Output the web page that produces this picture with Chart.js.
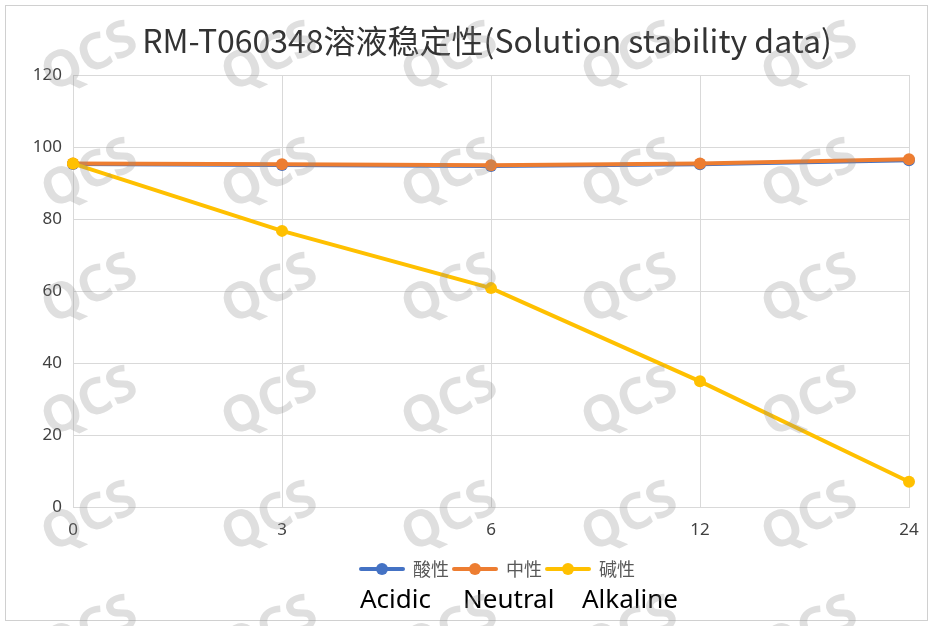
<!DOCTYPE html>
<html>
<head>
<meta charset="utf-8">
<script src="https://cdn.jsdelivr.net/npm/chart.js@4"></script>
<style>
html,body{margin:0;padding:0;background:#fff;}
#wrap{position:relative;width:932px;height:626px;}
</style>
</head>
<body>
<div id="wrap"><canvas id="c" width="932" height="626"></canvas></div>
<script>
const categories = ['0', '3', '6', '12', '24'];
const acidic = [95.3, 95.0, 94.7, 95.2, 96.3];
const neutral = [95.4, 95.2, 94.9, 95.4, 96.6];
const alkaline = [95.4, 76.7, 60.8, 34.9, 7.0];
const seriesNames = ['酸性', '中性', '碱性'];
const subtitleWords = ['Acidic', 'Neutral', 'Alkaline'];
const titleText = 'RM-T060348溶液稳定性(Solution stability data)';
const watermarkText = 'QCS';

const colors = ['#4472C4', '#ED7D31', '#FFC000'];
const FONT = '"Noto Sans", "Noto Sans CJK SC", sans-serif';
const CJK = '"Noto Sans CJK SC", "Noto Sans", sans-serif';

function legendIcon(color) {
  const c = document.createElement('canvas');
  c.width = 46; c.height = 14;
  const g = c.getContext('2d');
  g.strokeStyle = color; g.lineWidth = 4; g.lineCap = 'round';
  g.beginPath(); g.moveTo(2, 7); g.lineTo(44, 7); g.stroke();
  g.fillStyle = color;
  g.beginPath(); g.arc(23, 7, 6, 0, Math.PI * 2); g.fill();
  return c;
}

const decor = {
  id: 'decor',
  afterLayout(chart) {
    const lg = chart.legend;
    if (lg) { lg.left += 43; lg.right += 43; lg.top += 2; lg.bottom += 2; }
  },
  beforeDraw(chart) {
    const ctx = chart.ctx;
    ctx.save();
    ctx.fillStyle = '#fff';
    ctx.fillRect(0, 0, chart.width, chart.height);
    ctx.strokeStyle = '#d0d0d0';
    ctx.lineWidth = 1;
    ctx.strokeRect(5.5, 5.5, 922, 615);
    ctx.restore();
  },
  afterDraw(chart) {
    const ctx = chart.ctx;
    ctx.save();
    // title
    ctx.fillStyle = '#333333';
    ctx.font = '32px ' + CJK;
    ctx.textAlign = 'center';
    ctx.textBaseline = 'middle';
    ctx.fillText(titleText, 487, 41);
    // subtitle words
    ctx.fillStyle = '#000';
    ctx.font = '26px ' + FONT;
    ctx.textAlign = 'left';
    const xs = [360, 463, 582];
    subtitleWords.forEach((w, i) => ctx.fillText(w, xs[i], 601));
    // watermarks
    ctx.fillStyle = 'rgba(140,140,140,0.28)';
    ctx.font = 'bold 50px ' + FONT;
    ctx.textAlign = 'center';
    const cols = [90, 270, 450, 630, 810];
    const rows = [58, 175, 290, 403, 518, 632];
    rows.forEach(y => cols.forEach(x => {
      ctx.save();
      ctx.translate(x, y);
      ctx.rotate(-0.45);
      ctx.fillText(watermarkText, 0, 0);
      ctx.restore();
    }));
    ctx.restore();
  }
};

const values = [acidic, neutral, alkaline];
const orders = [3, 2, 1];
new Chart(document.getElementById('c'), {
  type: 'line',
  data: {
    labels: categories,
    datasets: seriesNames.map((n, i) => ({
      label: n,
      data: values[i],
      order: orders[i],
      borderColor: colors[i],
      backgroundColor: colors[i],
      borderWidth: 4,
      pointRadius: 6,
      pointHoverRadius: 6,
      pointBackgroundColor: colors[i],
      pointBorderColor: colors[i],
      pointBorderWidth: 0,
      pointStyle: 'circle',
      tension: 0
    }))
  },
  options: {
    responsive: false,
    animation: false,
    devicePixelRatio: 1,
    layout: { padding: { left: 0, right: 23, top: 75, bottom: 40 } },
    plugins: {
      title: { display: false },
      tooltip: { enabled: false },
      legend: {
        position: 'bottom',
        labels: {
          usePointStyle: true,
          pointStyleWidth: 44,
          padding: 4,
          color: '#595959',
          font: { size: 18, family: CJK },
          generateLabels(chart) {
            return chart.data.datasets.map((d, i) => ({
              text: d.label,
              fillStyle: colors[i],
              strokeStyle: colors[i],
              lineWidth: 0,
              pointStyle: legendIcon(colors[i]),
              fontColor: '#595959',
              datasetIndex: i,
              hidden: false
            }));
          }
        }
      }
    },
    scales: {
      x: {
        offset: false,
        grid: { color: '#d9d9d9', drawTicks: false },
        border: { color: '#d9d9d9' },
        ticks: { color: '#404040', font: { size: 17, family: FONT }, padding: 13, maxRotation: 0 },
        afterFit(s) { s.height = 47; }
      },
      y: {
        min: 0, max: 120,
        ticks: { stepSize: 20, color: '#404040', font: { size: 17, family: FONT }, padding: 11 },
        grid: { color: '#d9d9d9', drawTicks: false },
        border: { color: '#d9d9d9' },
        afterFit(s) { s.width = 73; }
      }
    }
  },
  plugins: [decor]
});
</script>
</body>
</html>
